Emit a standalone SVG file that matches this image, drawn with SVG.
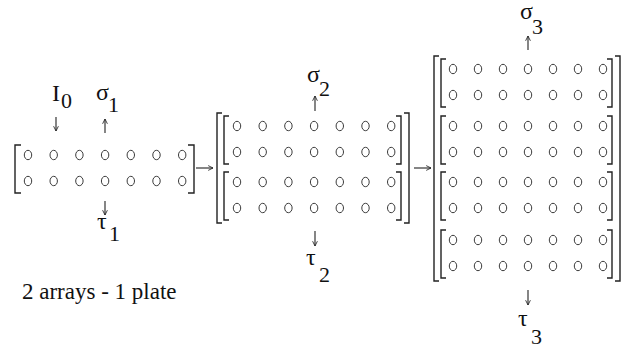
<svg xmlns="http://www.w3.org/2000/svg" xmlns:xlink="http://www.w3.org/1999/xlink" width="626" height="349" viewBox="0 0 626 349">
  <style>
    .dot { fill: none; stroke: #3a3a3a; stroke-width: 1; }
    .br { fill: none; stroke: #222; stroke-width: 1.4; }
    .ar { fill: none; stroke: #222; stroke-width: 1.1; marker-end: url(#head); }
    text { font-family: "Liberation Serif", "Times New Roman", "DejaVu Serif", serif; fill: #111; }
    .lbl { font-size: 24px; }
    .sub { font-size: 22px; }
    .cap { font-size: 23px; }
  </style>
  <defs>
    <marker id="head" viewBox="0 0 10 10" refX="9" refY="5" markerWidth="6" markerHeight="6" markerUnits="userSpaceOnUse" orient="auto">
      <path d="M1,1 L9,5 L1,9" fill="none" stroke="#222" stroke-width="1.4"/>
    </marker>
    <ellipse id="o" cx="0" cy="0" rx="3.7" ry="4.7" class="dot"/>
    <!-- a row of seven wells, two pitches -->
    <g id="rowA">
      <use xlink:href="#o" x="0"/><use xlink:href="#o" x="25.7"/><use xlink:href="#o" x="51.4"/>
      <use xlink:href="#o" x="77.1"/><use xlink:href="#o" x="102.8"/><use xlink:href="#o" x="128.5"/>
      <use xlink:href="#o" x="154.2"/>
    </g>
    <g id="rowB">
      <use xlink:href="#o" x="0"/><use xlink:href="#o" x="25"/><use xlink:href="#o" x="50"/>
      <use xlink:href="#o" x="75"/><use xlink:href="#o" x="100"/><use xlink:href="#o" x="125"/>
      <use xlink:href="#o" x="150"/>
    </g>
  </defs>
  <rect width="626" height="349" fill="#fff"/>

  <!-- stage 1: one pair of arrays -->
  <g id="plate1">
    <use xlink:href="#rowA" x="28" y="155"/>
    <use xlink:href="#rowA" x="28" y="181"/>
    <path class="br" d="M21,145 H15 V193 H21"/>
    <path class="br" d="M188,145 H194 V193 H188"/>
  </g>

  <!-- stage 2: two pairs -->
  <g id="plate2">
    <use xlink:href="#rowA" x="237" y="126"/>
    <use xlink:href="#rowA" x="237" y="152"/>
    <use xlink:href="#rowA" x="237" y="182"/>
    <use xlink:href="#rowA" x="237" y="208"/>
    <path class="br" d="M229,116 H224 V164 H229"/>
    <path class="br" d="M229,172 H224 V220 H229"/>
    <path class="br" d="M396,116 H401 V164 H396"/>
    <path class="br" d="M396,172 H401 V220 H396"/>
    <path class="br" d="M222,113 H217 V223 H222"/>
    <path class="br" d="M404,113 H409 V223 H404"/>
  </g>

  <!-- stage 3: four pairs -->
  <g id="plate3">
    <use xlink:href="#rowB" x="453" y="69"/>
    <use xlink:href="#rowB" x="453" y="95"/>
    <use xlink:href="#rowB" x="453" y="126"/>
    <use xlink:href="#rowB" x="453" y="152"/>
    <use xlink:href="#rowB" x="453" y="182"/>
    <use xlink:href="#rowB" x="453" y="208"/>
    <use xlink:href="#rowB" x="453" y="240"/>
    <use xlink:href="#rowB" x="453" y="266"/>
    <path class="br" d="M446,59 H441 V107 H446"/>
    <path class="br" d="M446,116 H441 V164 H446"/>
    <path class="br" d="M446,172 H441 V220 H446"/>
    <path class="br" d="M446,230 H441 V278 H446"/>
    <path class="br" d="M607,59 H612 V107 H607"/>
    <path class="br" d="M607,116 H612 V164 H607"/>
    <path class="br" d="M607,172 H612 V220 H607"/>
    <path class="br" d="M607,230 H612 V278 H607"/>
    <path class="br" d="M439,56 H434 V281 H439"/>
    <path class="br" d="M615,56 H620 V281 H615"/>
  </g>

  <!-- labels -->
  <g id="labels">
    <text class="lbl" x="52" y="101" font-family="Liberation Serif, serif">I</text><text class="sub" x="61" y="108" font-family="Liberation Serif, serif">0</text>
    <text class="lbl" x="96" y="100" font-family="Liberation Serif, serif">σ</text><text class="sub" x="108" y="112" font-family="Liberation Serif, serif">1</text>
    <text class="lbl" x="97" y="229" font-family="Liberation Serif, serif">τ</text><text class="sub" x="109" y="241" font-family="Liberation Serif, serif">1</text>
    <text class="lbl" x="307" y="82" font-family="Liberation Serif, serif">σ</text><text class="sub" x="319" y="96" font-family="Liberation Serif, serif">2</text>
    <text class="lbl" x="306" y="265" font-family="Liberation Serif, serif">τ</text><text class="sub" x="319" y="282" font-family="Liberation Serif, serif">2</text>
    <text class="lbl" x="520" y="19" font-family="Liberation Serif, serif">σ</text><text class="sub" x="532" y="34" font-family="Liberation Serif, serif">3</text>
    <text class="lbl" x="518" y="326" font-family="Liberation Serif, serif">τ</text><text class="sub" x="531" y="344" font-family="Liberation Serif, serif">3</text>
    <text class="cap" x="22" y="299" font-family="Liberation Serif, serif">2 arrays - 1 plate</text>
  </g>

  <!-- connectors -->
  <g id="connectors">
    <line class="ar" x1="56" y1="117" x2="56" y2="131"/>
    <line class="ar" x1="105" y1="133" x2="105" y2="119"/>
    <line class="ar" x1="105" y1="201" x2="105" y2="215"/>
    <line class="ar" x1="196" y1="168" x2="213" y2="168"/>
    <line class="ar" x1="315" y1="111" x2="315" y2="96"/>
    <line class="ar" x1="315" y1="231" x2="315" y2="246"/>
    <line class="ar" x1="414" y1="168" x2="431" y2="168"/>
    <line class="ar" x1="528" y1="50" x2="528" y2="36"/>
    <line class="ar" x1="528" y1="290" x2="528" y2="305"/>
  </g>
</svg>
